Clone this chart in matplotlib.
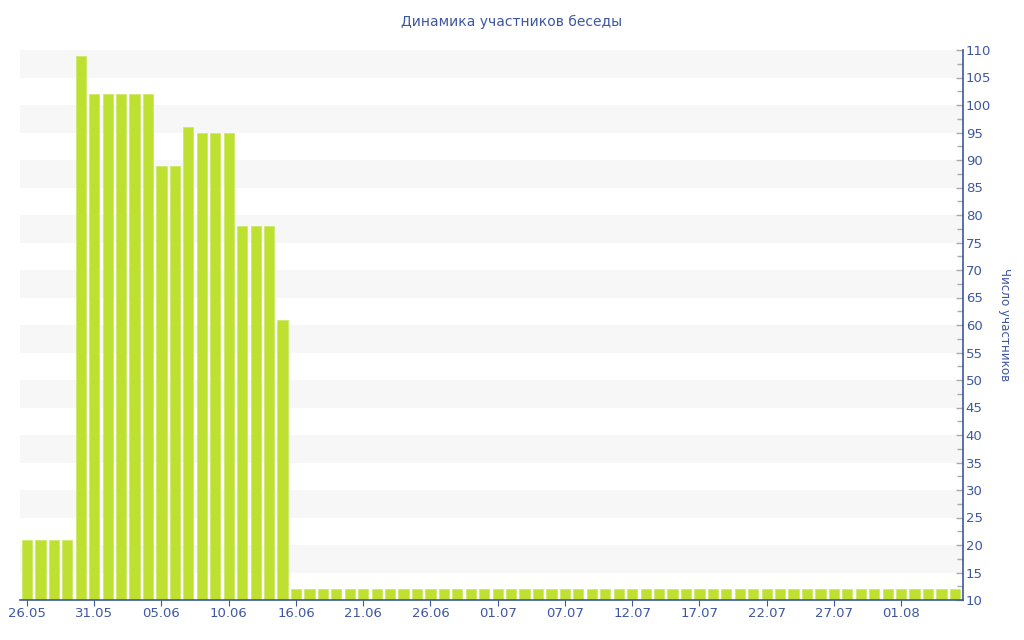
import matplotlib
matplotlib.use("Agg")
import matplotlib.pyplot as plt
from matplotlib.ticker import MultipleLocator

# ---- data ----
dates = (
    ["26.05", "27.05", "28.05", "29.05", "30.05", "31.05",
     "01.06", "02.06", "03.06", "04.06", "05.06", "06.06", "07.06", "08.06", "09.06",
     "10.06", "11.06", "12.06", "13.06", "14.06",
     "16.06", "17.06", "18.06", "19.06", "20.06", "21.06", "22.06", "23.06", "24.06", "25.06",
     "26.06", "27.06", "28.06", "29.06", "30.06", "01.07", "02.07", "03.07", "04.07", "05.07",
     "07.07", "08.07", "09.07", "10.07", "11.07", "12.07", "13.07", "14.07", "15.07", "16.07",
     "17.07", "18.07", "19.07", "20.07", "21.07", "22.07", "23.07", "24.07", "25.07", "26.07",
     "27.07", "28.07", "29.07", "30.07", "31.07", "01.08", "02.08", "03.08", "04.08", "05.08"]
)
members = ([21, 21, 21, 21, 109, 102, 102, 102, 102, 102, 89, 89, 96, 95, 95, 95,
            78, 78, 78, 61] + [12] * 50)
title = "Динамика участников беседы"
ylabel = "Число участников"

text_color = "#3e57a0"
bar_color = "#bde031"

fig = plt.figure(figsize=(10.24, 6.4), dpi=100)
ax = fig.add_axes([20 / 1024, 40 / 640, 943 / 1024, 550 / 640])

x = list(range(len(dates)))
ymin, ymax = 10, 110

# alternating bands
for y0 in range(15, ymax, 10):
    ax.axhspan(y0, y0 + 5, color="#f7f7f7", zorder=0, lw=0)

ax.bar(x, [v - ymin for v in members], bottom=ymin, width=0.76,
       color=bar_color, edgecolor="#cde86a", linewidth=0.6, zorder=2)

ax.set_xlim(-0.52, len(dates) - 0.4)
ax.set_ylim(ymin, ymax)

ax.set_xticks(x[::5])
ax.set_xticklabels(dates[::5])

ax.yaxis.tick_right()
ax.yaxis.set_label_position("right")
ax.yaxis.set_major_locator(MultipleLocator(5))
ax.yaxis.set_minor_locator(MultipleLocator(2.5))

for s in ["top", "left"]:
    ax.spines[s].set_visible(False)
ax.spines["right"].set_color(text_color)
ax.spines["bottom"].set_color(text_color)
ax.spines["right"].set_linewidth(1.2)
ax.spines["bottom"].set_linewidth(1.2)
ax.spines["right"].set_zorder(5)

ax.tick_params(axis="y", which="major", direction="in", length=5, width=1,
               color="#aaaaaa", labelcolor=text_color, labelsize=9.5, pad=2)
ax.tick_params(axis="y", which="minor", direction="in", length=4, width=1,
               color="#aaaaaa")
ax.tick_params(axis="x", which="major", direction="out", length=4, color=text_color,
               labelcolor=text_color, labelsize=9.5, pad=1)

ax.set_ylabel(ylabel, rotation=270, color=text_color, fontsize=8.6, labelpad=14)
fig.text(0.5, 1 - 22 / 640, title, ha="center", va="center", color=text_color, fontsize=10)

fig.savefig("out.png", dpi=100)
